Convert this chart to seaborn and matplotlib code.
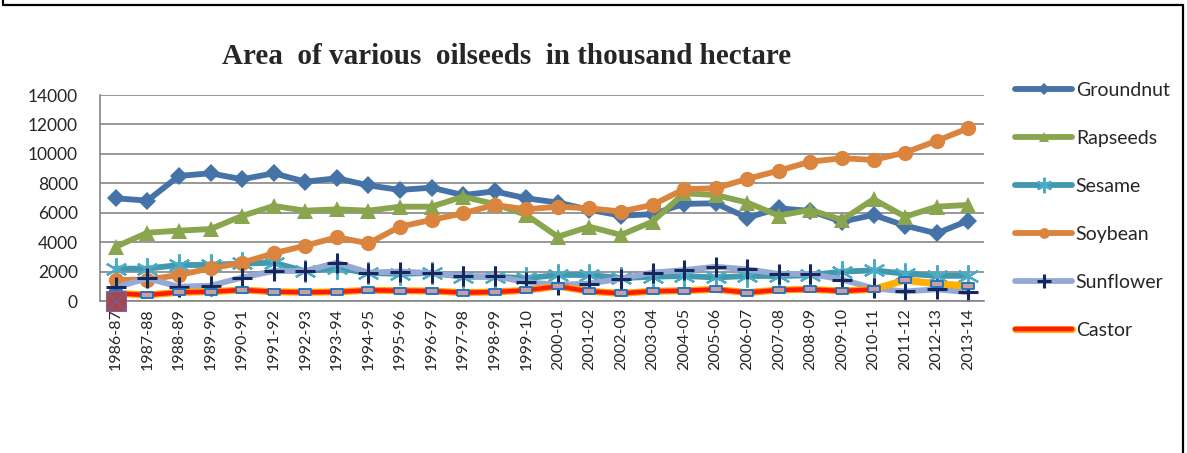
"""
Area of various oilseeds in thousand hectare, 1986-87 to 2013-14.
Line chart redrawn with seaborn / matplotlib.
"""

import numpy as np
import matplotlib.pyplot as plt
import matplotlib.patheffects as pe
from matplotlib.lines import Line2D
from matplotlib.ticker import FixedLocator, MultipleLocator
import seaborn as sns

sns.set_style("white")
plt.rcParams["font.family"] = ["Lato", "DejaVu Sans"]

# ---- data (thousand hectare) ----
years = ["1986-87", "1987-88", "1988-89", "1989-90", "1990-91", "1991-92",
         "1992-93", "1993-94", "1994-95", "1995-96", "1996-97", "1997-98",
         "1998-99", "1999-10", "2000-01", "2001-02", "2002-03", "2003-04",
         "2004-05", "2005-06", "2006-07", "2007-08", "2008-09", "2009-10",
         "2010-11", "2011-12", "2012-13", "2013-14"]

groundnut = [6980, 6820, 8500, 8680, 8270, 8680, 8110, 8340, 7860, 7550,
             7700, 7200, 7450, 6980, 6690, 6200, 5800, 5900, 6600, 6640,
             5660, 6300, 6120, 5390, 5850, 5120, 4600, 5460]
rapeseeds = [3690, 4640, 4780, 4890, 5780, 6460, 6140, 6230, 6140, 6410,
             6410, 7090, 6590, 5850, 4370, 5050, 4490, 5390, 7320, 7200,
             6690, 5800, 6190, 5510, 6920, 5730, 6410, 6530]
sesame = [2200, 2200, 2450, 2450, 2550, 2600, 2030, 2250, 1900, 1850,
          1900, 1650, 1650, 1550, 1770, 1770, 1560, 1650, 1700, 1600,
          1700, 1700, 1750, 2000, 2080, 1860, 1710, 1710]
soybean = [1430, 1450, 1770, 2220, 2600, 3240, 3760, 4330, 3920, 5050,
           5510, 5960, 6530, 6230, 6410, 6300, 6080, 6530, 7600, 7660,
           8300, 8860, 9470, 9700, 9590, 10090, 10880, 11740]
sunflower = [930, 1540, 970, 1040, 1590, 2040, 2040, 2600, 1930, 2000,
             1900, 1680, 1680, 1280, 1100, 1180, 1520, 1930, 2100, 2330,
             2150, 1840, 1840, 1460, 860, 650, 790, 600]
castor = [520, 410, 590, 630, 750, 630, 590, 620, 730, 700,
          680, 570, 610, 730, 1000, 660, 520, 660, 700, 790,
          570, 750, 790, 680, 790, 1420, 1160, 1030]
stray_point = 0   # odd square marker sitting on the axis at 1986-87

x = np.arange(len(years))

fig = plt.figure(figsize=(11.87, 4.53), dpi=100)
ax = fig.add_axes([100 / 1187, 1 - 301 / 453, 884 / 1187, 206 / 453])

# flat rectangle marker for castor
rect = [(-1, -0.55), (1, -0.55), (1, 0.55), (-1, 0.55), (-1, -0.55)]

sns.lineplot(x=x, y=groundnut, ax=ax, color="#4572A7", lw=4.2,
             marker="D", markersize=9, markeredgewidth=0, label="Groundnut")
sns.lineplot(x=x, y=rapeseeds, ax=ax, color="#89A54E", lw=4.2,
             marker="^", markersize=11, markeredgewidth=0, label="Rapseeds")
sns.lineplot(x=x, y=sesame, ax=ax, color="#4198AF", lw=4.2,
             marker=(6, 2, 0), markersize=16, markeredgewidth=1.6,
             markeredgecolor="#4BACC6", label="Sesame")
sns.lineplot(x=x, y=soybean, ax=ax, color="#DB843D", lw=4.2,
             marker="o", markersize=11, markeredgewidth=0, label="Soybean")
sns.lineplot(x=x, y=sunflower, ax=ax, color="#95A9D4", lw=4.2,
             marker="+", markersize=15, markeredgewidth=2.2,
             markeredgecolor="#14285E", label="Sunflower")

castor_fx = [pe.Stroke(linewidth=5, foreground="#FFA800"), pe.Normal()]
sns.lineplot(x=x, y=castor, ax=ax, color="#FF1A00", lw=3.2,
             path_effects=castor_fx, label="Castor")
# the tail of the castor line turns yellow-orange in the original
sns.lineplot(x=x[24:], y=castor[24:], ax=ax, color="#FFB000", lw=4.5,
             legend=False)
ax.plot(x, castor, ls="none", marker=rect, markersize=8,
        markerfacecolor="#C9A0A0", markeredgecolor="#1F6FC0",
        markeredgewidth=1.3, zorder=5)

ax.plot(x[:1], [stray_point], ls="none", marker="s", markersize=14.5,
        markerfacecolor="#A5484D", markeredgecolor="#8064A2",
        markeredgewidth=0.8, zorder=6, clip_on=False)
ax.plot(x[:1], [stray_point], ls="none", marker="x", markersize=13,
        markeredgecolor="#7060A0", markeredgewidth=0.9, zorder=7,
        clip_on=False)

# ---- axes ----
ax.set_xlim(-0.5, len(years) - 0.5)
ax.set_ylim(0, 14000)
ax.yaxis.set_major_locator(MultipleLocator(2000))
ax.set_xticks(x)
ax.set_xticklabels(years, rotation=90, fontsize=11.5)
ax.xaxis.set_minor_locator(FixedLocator(np.arange(-0.5, len(years), 1)))
ax.tick_params(axis="x", which="major", length=0, pad=5)
ax.tick_params(axis="x", which="minor", length=6, width=1, color="#868686")
ax.tick_params(axis="y", length=6, width=1, color="#868686", labelsize=12.5, pad=10)
ax.yaxis.grid(True, color="#868686", lw=1.2)
ax.set_axisbelow(True)
for side in ["top", "right"]:
    ax.spines[side].set_visible(False)
for side in ["left", "bottom"]:
    ax.spines[side].set_color("#868686")
    ax.spines[side].set_linewidth(1.2)
ax.set_xlabel("")
ax.set_ylabel("")

fig.text(507 / 1187, 1 - 57 / 453, "Area  of various  oilseeds  in thousand hectare",
         ha="center", va="center", fontsize=21, fontweight="bold",
         family="Liberation Serif")

leg = ax.legend(loc="upper left", bbox_to_anchor=(998 / 1187, 1 - 64 / 453),
                bbox_transform=fig.transFigure, frameon=False, fontsize=14,
                handlelength=2.9, handletextpad=0.2, labelspacing=1.6,
                markerscale=0.7)

# black frame around the whole chart (bottom edge is cropped off)
for xs, ys in [([3, 3], [-10, 5]), ([3, 1183], [5, 5]), ([1183, 1183], [5, 460])]:
    fig.add_artist(Line2D([v / 1187 for v in xs], [1 - v / 453 for v in ys],
                          color="black", lw=1.6))

plt.savefig("out.png", dpi=100)
plt.close()
